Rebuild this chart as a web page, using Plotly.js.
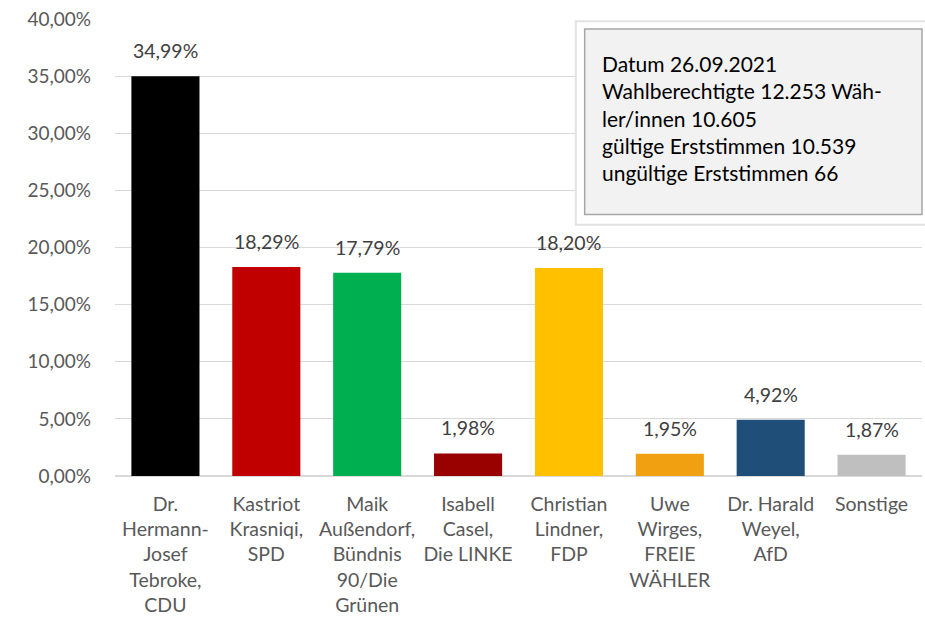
<!DOCTYPE html>
<html>
<head>
<meta charset="utf-8">
<script src="https://cdn.plot.ly/plotly-3.0.1.min.js"></script>
<style>html,body{margin:0;padding:0;background:#fff;}#chart{width:925px;height:620px;}</style>
</head>
<body>
<div id="chart"></div>
<script>
const categories = [
  "Dr.<br>Hermann-<br>Josef<br>Tebroke,<br>CDU",
  "Kastriot<br>Krasniqi,<br>SPD",
  "Maik<br>Außendorf,<br>Bündnis<br>90/Die<br>Grünen",
  "Isabell<br>Casel,<br>Die LINKE",
  "Christian<br>Lindner,<br>FDP",
  "Uwe<br>Wirges,<br>FREIE<br>WÄHLER",
  "Dr. Harald<br>Weyel,<br>AfD",
  "Sonstige"
];
const shares = [0.3499, 0.1829, 0.1779, 0.0198, 0.1820, 0.0195, 0.0492, 0.0187];
const labels = ["34,99%", "18,29%", "17,79%", "1,98%", "18,20%", "1,95%", "4,92%", "1,87%"];
const colors = ["#000000", "#c00000", "#00b050", "#990000", "#ffc000", "#f0a010", "#1f4e79", "#bfbfbf"];
const yTicks = [0, 0.05, 0.10, 0.15, 0.20, 0.25, 0.30, 0.35, 0.40];
const infoLines = [
  "Datum 26.09.2021",
  "Wahlberechtigte 12.253 Wäh-",
  "ler/innen 10.605",
  "gültige Erststimmen 10.539",
  "ungültige Erststimmen 66"
];

const FONT = "Lato, 'Open Sans', sans-serif";

const trace = {
  type: "bar",
  x: categories,
  y: shares,
  marker: {color: colors},
  hoverinfo: "skip"
};

const annotations = categories.map((c, i) => ({
  x: c, y: shares[i], xref: "x", yref: "y",
  text: labels[i], showarrow: false,
  yanchor: "bottom", yshift: 12,
  font: {family: FONT, size: 19.5, color: "#404040"}
}));

annotations.push({
  xref: "paper", yref: "paper", x: 0.601, y: 0.934,
  xanchor: "left", yanchor: "top", align: "left",
  text: infoLines.join("<br>"), showarrow: false,
  font: {family: FONT, size: 21, color: "#000000"}
});

const layout = {
  width: 925, height: 620,
  margin: {l: 115, r: 3, t: 18.5, b: 144, pad: 0},
  paper_bgcolor: "#ffffff",
  plot_bgcolor: "#ffffff",
  separators: ",.",
  showlegend: false,
  bargap: 0.325,
  font: {family: FONT, color: "#595959", size: 18},
  xaxis: {
    type: "category",
    showgrid: false, showline: false, zeroline: false,
    ticks: "", ticklabelstandoff: 14,
    tickangle: 0,
    tickfont: {family: FONT, size: 19.5, color: "#595959"}
  },
  yaxis: {
    range: [0, 0.40],
    tickvals: yTicks,
    tickformat: ".2%",
    showgrid: true, gridcolor: "#d9d9d9", gridwidth: 1,
    zeroline: true, zerolinecolor: "#d9d9d9", zerolinewidth: 2,
    showline: false, ticks: "",
    ticklabelstandoff: 23,
    tickfont: {family: FONT, size: 19, color: "#595959"}
  },
  shapes: [
    {type: "rect", xref: "paper", yref: "paper", x0: 0.571, x1: 1.01, y0: 0.55, y1: 0.995,
     fillcolor: "#ffffff", line: {color: "#e3e3e3", width: 2}, layer: "above"},
    {type: "rect", xref: "paper", yref: "paper", x0: 0.582, x1: 1.0, y0: 0.572, y1: 0.978,
     fillcolor: "#f2f2f2", line: {color: "#a6a6a6", width: 1.5}, layer: "above"}
  ],
  annotations: annotations
};

Plotly.newPlot("chart", [trace], layout, {displayModeBar: false, staticPlot: true});
</script>
</body>
</html>
